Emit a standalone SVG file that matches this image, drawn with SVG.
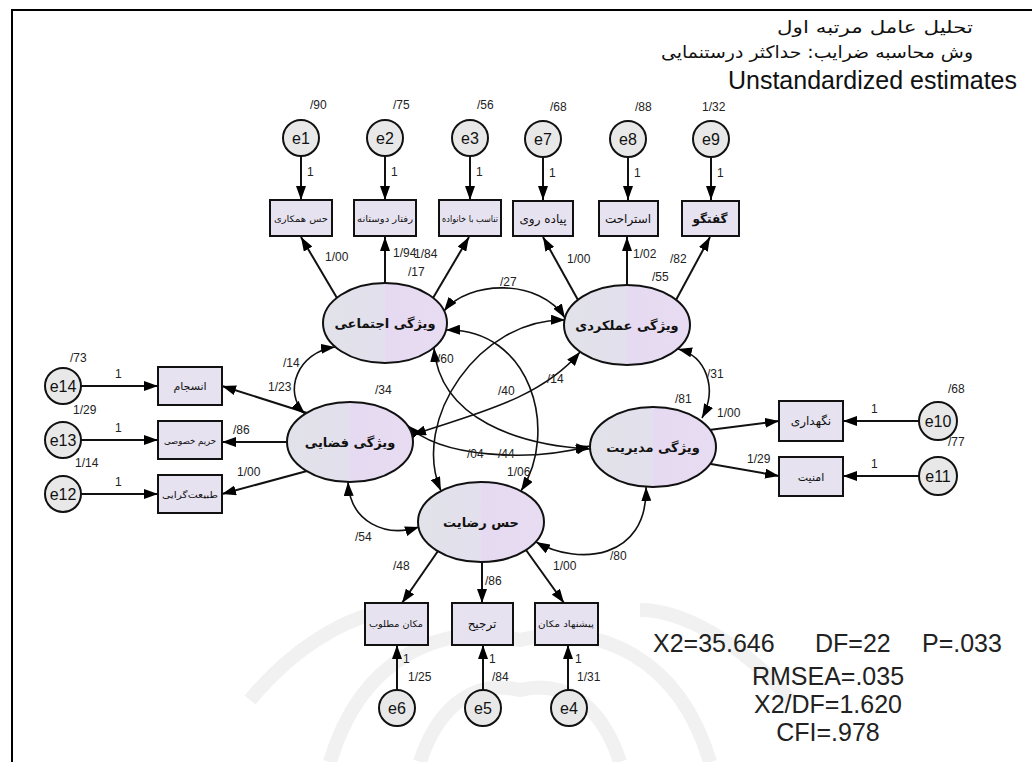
<svg xmlns="http://www.w3.org/2000/svg" width="1035" height="762" viewBox="0 0 1035 762">
<defs>
<linearGradient id="lg" x1="0" y1="0" x2="1" y2="0">
<stop offset="0" stop-color="#e2e2ea"/><stop offset="0.5" stop-color="#e2e0ec"/><stop offset="0.5" stop-color="#e6daf2"/><stop offset="1" stop-color="#e8dcf2"/>
</linearGradient>
<marker id="ah" viewBox="0 0 14 10" refX="14" refY="5" markerWidth="14" markerHeight="10" markerUnits="userSpaceOnUse" orient="auto-start-reverse"><path d="M0,0 L14,5 L0,10 z" fill="#000"/></marker>
<style>
.lat ellipse{fill:url(#lg);stroke:#111;stroke-width:2}
.obs rect{fill:#e6e2f0;stroke:#111;stroke-width:2}
.err circle{fill:#e8e8e8;stroke:#111;stroke-width:2}
.fa{font-family:"DejaVu Sans",sans-serif;fill:#111}
.lt{font-size:13px;text-anchor:middle;font-weight:bold}
.bt{font-size:9px;text-anchor:middle}
.et{font-family:"Liberation Sans",Arial,sans-serif;font-size:16px;text-anchor:middle;fill:#111}
.num{font-family:"Liberation Sans",Arial,sans-serif;font-size:12px;fill:#222}
.st{font-family:"Liberation Sans",Arial,sans-serif;font-size:25px;fill:#222}
.ln{stroke:#111;stroke-width:2;fill:none;marker-end:url(#ah)}
.cv{stroke:#111;stroke-width:1.6;fill:none;marker-start:url(#ah);marker-end:url(#ah)}
.wm{stroke:#f1f1f1;stroke-width:14;fill:none}
</style>
</defs>
<rect width="1035" height="762" fill="#fff"/>
<g id="watermark" class="wm">
<path d="M330,762 C360,660 440,620 520,640 C600,620 680,660 710,762"/>
<path d="M420,762 C440,700 480,680 520,690 C560,680 600,700 620,762"/>
<path d="M250,700 C300,640 360,610 400,610"/>
<path d="M790,700 C740,640 680,610 640,610"/>
</g>
<path d="M12,762 V10 H1032" stroke="#000" stroke-width="2" fill="none"/>

<g id="title">
<text class="fa" x="973" y="33" font-size="17" text-anchor="end" textLength="196" lengthAdjust="spacingAndGlyphs">تحلیل عامل مرتبه اول</text>
<text class="fa" x="973" y="58" font-size="17" text-anchor="end" textLength="312" lengthAdjust="spacingAndGlyphs">وش محاسبه ضرایب: حداکثر درستنمایی</text>
<text x="1017" y="89" font-family="Liberation Sans, Arial, sans-serif" font-size="25" fill="#111" text-anchor="end">Unstandardized estimates</text>
</g>

<g id="connectors">
<!-- error to indicator -->
<path class="ln" d="M301,156 V200"/>
<path class="ln" d="M385,156 V200"/>
<path class="ln" d="M470,156 V200"/>
<path class="ln" d="M543,157 V200"/>
<path class="ln" d="M628,157 V200"/>
<path class="ln" d="M711,157 V200"/>
<path class="ln" d="M81,386 H158"/>
<path class="ln" d="M81,440 H158"/>
<path class="ln" d="M81,494 H158"/>
<path class="ln" d="M920,421 H843"/>
<path class="ln" d="M920,476 H843"/>
<path class="ln" d="M397,690 V645"/>
<path class="ln" d="M483,690 V645"/>
<path class="ln" d="M568,690 V645"/>
<!-- loadings -->
<path class="ln" d="M337,298 L301,237"/>
<path class="ln" d="M385,283 V237"/>
<path class="ln" d="M433,298 L469,237"/>
<path class="ln" d="M578,300 L543,237"/>
<path class="ln" d="M627,285 V237"/>
<path class="ln" d="M676,300 L710,237"/>
<path class="ln" d="M307,413 L222,386"/>
<path class="ln" d="M287,442 H222"/>
<path class="ln" d="M307,471 L222,494"/>
<path class="ln" d="M709,430 L779,421"/>
<path class="ln" d="M711,464 L779,476"/>
<path class="ln" d="M438,551 L402,603"/>
<path class="ln" d="M482,562 V603"/>
<path class="ln" d="M526,550 L564,603"/>
<!-- covariances -->
<path class="cv" d="M444,311 C468,280 540,278 565,318"/>
<path class="cv" d="M335,347 C298,352 282,392 305,414"/>
<path class="cv" d="M678,349 C706,356 718,388 702,418"/>
<path class="cv" d="M348,482 C350,522 385,538 419,527"/>
<path class="cv" d="M536,542 C578,566 648,560 646,487"/>
<path class="cv" d="M446,330 C530,328 560,430 521,491"/>
<path class="cv" d="M565,320 C480,318 410,420 441,491"/>
<path class="cv" d="M434,348 C440,420 520,445 590,449"/>
<path class="cv" d="M407,425 C440,458 530,462 590,446"/>
<path class="cv" d="M412,435 C470,415 540,400 580,352"/>
</g>

<g id="latents" class="lat">
<g id="social"><ellipse cx="385" cy="323" rx="62" ry="40"/><text class="fa lt" x="385" y="328">ویژگی اجتماعی</text></g>
<g id="performance"><ellipse cx="627" cy="325" rx="63" ry="40"/><text class="fa lt" x="627" y="330">ویژگی عملکردی</text></g>
<g id="spatial"><ellipse cx="350" cy="442" rx="63" ry="40"/><text class="fa lt" x="350" y="447">ویژگی فضایی</text></g>
<g id="management"><ellipse cx="653" cy="447" rx="63" ry="40"/><text class="fa lt" x="653" y="452">ویژگی مدیریت</text></g>
<g id="satisfaction"><ellipse cx="481" cy="522" rx="63" ry="40"/><text class="fa lt" x="481" y="527">حس رضایت</text></g>
</g>

<g id="indicators" class="obs">
<g id="b1"><rect x="270" y="200" width="62" height="36"/><text class="fa bt" x="301" y="222" textLength="54" lengthAdjust="spacingAndGlyphs">حس همکاری</text></g>
<g id="b2"><rect x="354" y="200" width="62" height="36"/><text class="fa bt" x="385" y="222" textLength="56" lengthAdjust="spacingAndGlyphs">رفتار دوستانه</text></g>
<g id="b3"><rect x="439" y="200" width="62" height="36"/><text class="fa bt" x="470" y="222" textLength="56" lengthAdjust="spacingAndGlyphs">تناسب با خانواده</text></g>
<g id="b7"><rect x="513" y="201" width="60" height="35"/><text class="fa" x="543" y="223" font-size="12" text-anchor="middle">پیاده روی</text></g>
<g id="b8"><rect x="599" y="201" width="59" height="35"/><text class="fa" x="628" y="223" font-size="12" text-anchor="middle">استراحت</text></g>
<g id="b9"><rect x="682" y="201" width="57" height="35"/><text class="fa" x="710" y="223" font-size="12" text-anchor="middle" font-weight="bold">گفتگو</text></g>
<g id="b14"><rect x="158" y="367" width="64" height="38"/><text class="fa" x="190" y="390" font-size="11" text-anchor="middle">انسجام</text></g>
<g id="b13"><rect x="158" y="421" width="64" height="38"/><text class="fa bt" x="190" y="444" textLength="52" lengthAdjust="spacingAndGlyphs">حریم خصوصی</text></g>
<g id="b12"><rect x="158" y="475" width="64" height="38"/><text class="fa bt" x="190" y="498" textLength="56" lengthAdjust="spacingAndGlyphs">طبیعت‌گرایی</text></g>
<g id="b10"><rect x="779" y="401" width="64" height="40"/><text class="fa" x="811" y="425" font-size="12" text-anchor="middle">نگهداری</text></g>
<g id="b11"><rect x="779" y="457" width="64" height="39"/><text class="fa" x="811" y="481" font-size="11" text-anchor="middle">امنیت</text></g>
<g id="b6"><rect x="365" y="603" width="63" height="42"/><text class="fa bt" x="396" y="627" textLength="54" lengthAdjust="spacingAndGlyphs">مکان مطلوب</text></g>
<g id="b5"><rect x="452" y="603" width="61" height="42"/><text class="fa" x="482" y="628" font-size="12" text-anchor="middle">ترجیح</text></g>
<g id="b4"><rect x="535" y="603" width="63" height="42"/><text class="fa bt" x="566" y="627" textLength="56" lengthAdjust="spacingAndGlyphs">پیشنهاد مکان</text></g>
</g>

<g id="errors" class="err">
<g id="e1"><circle cx="301" cy="138" r="18"/><text class="et" x="301" y="144">e1</text></g>
<g id="e2"><circle cx="385" cy="138" r="18"/><text class="et" x="385" y="144">e2</text></g>
<g id="e3"><circle cx="470" cy="138" r="18"/><text class="et" x="470" y="144">e3</text></g>
<g id="e7"><circle cx="543" cy="139" r="18"/><text class="et" x="543" y="145">e7</text></g>
<g id="e8"><circle cx="628" cy="139" r="18"/><text class="et" x="628" y="145">e8</text></g>
<g id="e9"><circle cx="711" cy="139" r="18"/><text class="et" x="711" y="145">e9</text></g>
<g id="e14"><circle cx="63" cy="386" r="18"/><text class="et" x="63" y="392">e14</text></g>
<g id="e13"><circle cx="63" cy="440" r="18"/><text class="et" x="63" y="446">e13</text></g>
<g id="e12"><circle cx="63" cy="494" r="18"/><text class="et" x="63" y="500">e12</text></g>
<g id="e10"><circle cx="938" cy="421" r="19"/><text class="et" x="938" y="427">e10</text></g>
<g id="e11"><circle cx="938" cy="476" r="19"/><text class="et" x="938" y="482">e11</text></g>
<g id="e6"><circle cx="397" cy="708" r="18"/><text class="et" x="397" y="714">e6</text></g>
<g id="e5"><circle cx="483" cy="708" r="18"/><text class="et" x="483" y="714">e5</text></g>
<g id="e4"><circle cx="569" cy="708" r="18"/><text class="et" x="569" y="714">e4</text></g>
</g>

<g id="labels" class="num">
<text x="310" y="109">/90</text><text x="393" y="109">/75</text><text x="477" y="109">/56</text>
<text x="550" y="111">/68</text><text x="635" y="111">/88</text><text x="702" y="111">1/32</text>
<text x="307" y="176">1</text><text x="391" y="176">1</text><text x="476" y="176">1</text>
<text x="549" y="177">1</text><text x="634" y="177">1</text><text x="717" y="177">1</text>
<text x="325" y="261">1/00</text><text x="393" y="257">1/94</text><text x="414" y="258">1/84</text><text x="408" y="276">/17</text>
<text x="567" y="263">1/00</text><text x="633" y="258">1/02</text><text x="670" y="263">/82</text><text x="652" y="281">/55</text>
<text x="500" y="286">/27</text>
<text x="283" y="367">/14</text><text x="268" y="391">1/23</text><text x="375" y="394">/34</text>
<text x="437" y="363">/60</text><text x="498" y="395">/40</text><text x="547" y="383">/14</text>
<text x="707" y="378">/31</text><text x="675" y="403">/81</text>
<text x="717" y="417">1/00</text><text x="747" y="463">1/29</text>
<text x="948" y="393">/68</text><text x="948" y="446">/77</text>
<text x="871" y="413">1</text><text x="871" y="468">1</text>
<text x="70" y="362">/73</text><text x="73" y="414">1/29</text><text x="75" y="467">1/14</text>
<text x="115" y="378">1</text><text x="115" y="432">1</text><text x="115" y="486">1</text>
<text x="233" y="434">/86</text><text x="237" y="476">1/00</text>
<text x="467" y="458">/04</text><text x="498" y="458">/44</text><text x="507" y="476">1/06</text>
<text x="355" y="541">/54</text><text x="610" y="560">/80</text>
<text x="393" y="570">/48</text><text x="485" y="585">/86</text><text x="553" y="570">1/00</text>
<text x="403" y="663">1</text><text x="489" y="663">1</text><text x="575" y="663">1</text>
<text x="408" y="681">1/25</text><text x="492" y="681">/84</text><text x="577" y="681">1/31</text>
</g>

<g id="stats" class="st">
<text x="653" y="652">X2=35.646</text><text x="815" y="652">DF=22</text><text x="922" y="652">P=.033</text>
<text x="828" y="685" text-anchor="middle">RMSEA=.035</text>
<text x="828" y="713" text-anchor="middle">X2/DF=1.620</text>
<text x="828" y="741" text-anchor="middle">CFI=.978</text>
</g>
</svg>
